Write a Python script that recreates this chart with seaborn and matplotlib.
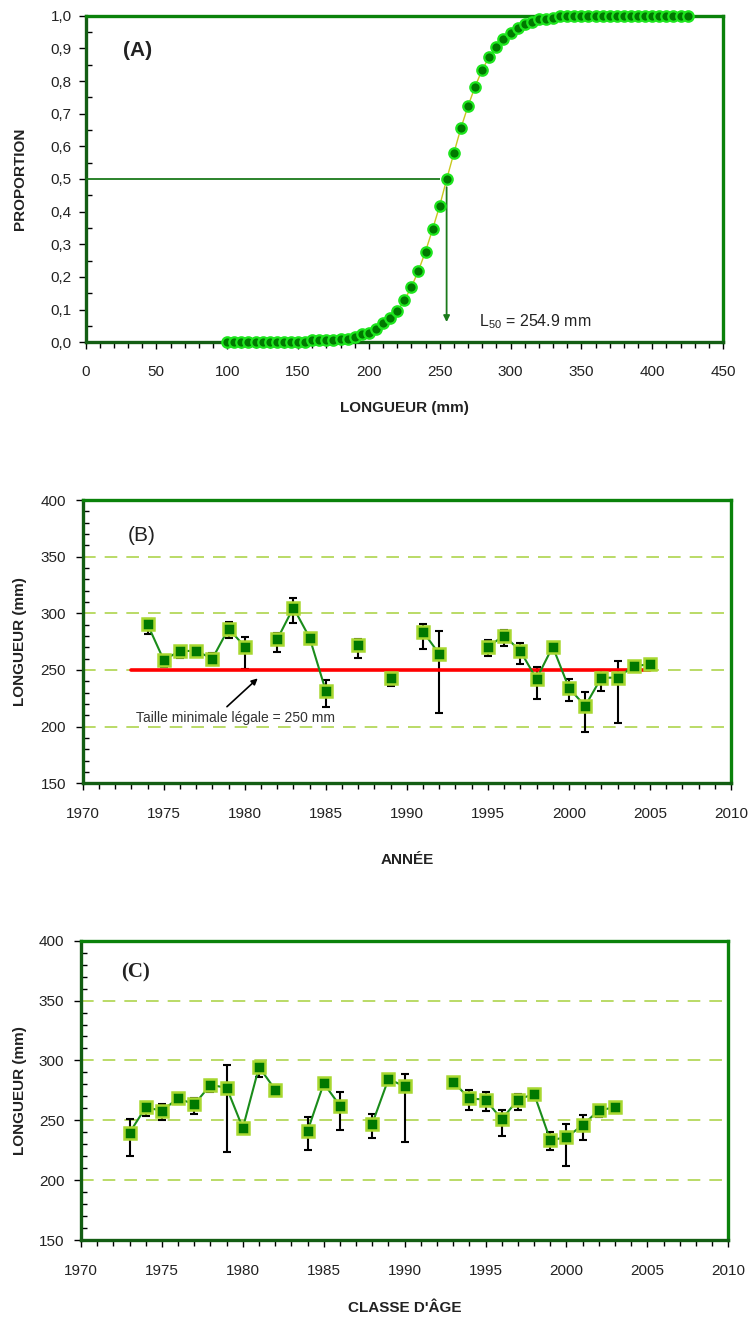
import numpy as np
import pandas as pd
import matplotlib
matplotlib.use('Agg')
import matplotlib.pyplot as plt
import seaborn as sns
from matplotlib.ticker import MultipleLocator, FuncFormatter

# ---------------- Panel A : maturity ogive ----------------
length_mm = [100, 105, 110, 115, 120, 125, 130, 135, 140, 145, 150, 155,
             160, 165, 170, 175, 180, 185, 190, 195, 200, 205, 210, 215,
             220, 225, 230, 235, 240, 245, 250, 255, 260, 265, 270, 275,
             280, 285, 290, 295, 300, 305, 310, 315, 320, 325, 330, 335,
             340, 345, 350, 355, 360, 365, 370, 375, 380, 385, 390, 395,
             400, 405, 410, 415, 420, 425]
proportion = [0.0, 0.0, 0.0, 0.0, 0.0, 0.0, 0.001, 0.001, 0.001, 0.001, 0.001, 0.002,
              0.006, 0.006, 0.006, 0.006, 0.010, 0.010, 0.015, 0.026, 0.030, 0.042, 0.058, 0.073,
              0.096, 0.128, 0.169, 0.219, 0.278, 0.346, 0.418, 0.500, 0.579, 0.656, 0.723, 0.783,
              0.834, 0.874, 0.905, 0.929, 0.948, 0.961, 0.974, 0.980, 0.989, 0.989, 0.994, 0.999,
              1.0, 1.0, 1.0, 1.0, 1.0, 1.0, 1.0, 1.0, 1.0, 1.0, 1.0, 1.0,
              1.0, 1.0, 1.0, 1.0, 1.0, 1.0]
l50 = 254.9
p50 = 0.5

# ---------------- Panel B : mean length by year ----------------
years_b = [1974, 1975, 1976, 1977, 1978, 1979, 1980, 1982, 1983, 1984, 1985, 1987, 1989,
           1991, 1992, 1995, 1996, 1997, 1998, 1999, 2000, 2001, 2002, 2003, 2004, 2005]
mean_b = [290.3, 258.8, 266.8, 266.8, 260.0, 286.5, 270.6, 277.0, 305.0, 278.5, 231.5, 272.0, 243.2,
          283.8, 264.1, 270.6, 280.3, 266.8, 242.1, 270.6, 234.1, 218.2, 243.2, 243.2, 253.5, 255.0]
low_b = [282.0, 253.0, 261.0, 265.0, 254.4, 278.0, 250.6, 266.2, 291.2, 272.6, 217.6, 260.9, 235.9,
         268.8, 212.4, 262.0, 271.5, 255.6, 224.1, 265.3, 222.9, 195.3, 231.8, 203.2, 252.0, 250.0]
high_b = [295.0, 262.0, 269.7, 268.5, 264.7, 292.0, 279.4, 283.0, 313.8, 282.0, 241.2, 277.6, 247.0,
          290.9, 284.4, 276.5, 285.3, 273.8, 252.6, 273.8, 242.1, 230.9, 250.0, 258.0, 255.3, 258.0]
legal_years = [1973, 2005]
legal_size = 250

# ---------------- Panel C : mean length by year class ----------------
years_c = [1973, 1974, 1975, 1976, 1977, 1978, 1979, 1980, 1981, 1982, 1984, 1985, 1986,
           1988, 1989, 1990, 1993, 1994, 1995, 1996, 1997, 1998, 1999, 2000, 2001, 2002, 2003]
mean_c = [239.6, 260.8, 258.0, 268.3, 263.3, 279.5, 277.2, 243.5, 294.5, 275.6, 241.0, 280.8, 262.2,
          247.2, 284.5, 278.3, 282.0, 268.3, 267.2, 250.8, 267.2, 272.0, 233.5, 235.7, 246.0, 258.3, 260.8]
low_c = [220.4, 253.8, 250.2, 263.9, 255.2, 273.6, 223.2, 243.0, 286.4, 271.4, 225.4, 280.3, 241.6,
         235.5, 284.0, 232.1, 281.5, 258.9, 257.7, 236.6, 258.9, 266.6, 225.4, 211.8, 233.8, 252.7, 256.3]
high_c = [251.3, 265.0, 263.9, 271.4, 268.9, 283.9, 296.2, 244.0, 298.7, 279.2, 252.7, 281.3, 273.9,
          255.5, 285.0, 288.6, 282.5, 275.0, 273.6, 258.9, 272.2, 276.1, 240.2, 246.6, 254.1, 260.5, 263.6]

# ---------------- style ----------------
sns.set_style('white')
plt.rcParams['font.family'] = ['Liberation Sans', 'DejaVu Sans']
plt.rcParams['mathtext.fontset'] = 'custom'
plt.rcParams['mathtext.rm'] = 'Liberation Sans'
plt.rcParams['mathtext.it'] = 'Liberation Sans:italic'
plt.rcParams['mathtext.bf'] = 'Liberation Sans:bold'

SPINE_DARK = '#135e13'
SPINE_LIGHT = '#0a820a'
GRID = '#b4d85a'

W, H = 748, 1324
fig = plt.figure(figsize=(W / 100, H / 100), dpi=100)
fig.patch.set_facecolor('white')
axA = fig.add_axes([85.5 / W, 1 - 342.3 / H, 637.5 / W, 326.6 / H])
axB = fig.add_axes([82.7 / W, 1 - 783.3 / H, 648.3 / W, 283.3 / H])
axC = fig.add_axes([81.0 / W, 1 - 1240.0 / H, 647.3 / W, 299.3 / H])


def style_axes(ax, xpad, ypad):
    for side in ['left', 'bottom']:
        ax.spines[side].set_color(SPINE_DARK)
        ax.spines[side].set_linewidth(2.4)
    for side in ['top', 'right']:
        ax.spines[side].set_color(SPINE_LIGHT)
        ax.spines[side].set_linewidth(2.4)
    for s in ax.spines.values():
        s.set_visible(True)
        s.set_zorder(1)
    ax.tick_params(axis='both', which='major', direction='out', length=5, width=1.0,
                   color='black', labelsize=11, labelcolor='#222222')
    ax.tick_params(axis='x', which='major', pad=xpad, bottom=True)
    ax.tick_params(axis='y', which='major', pad=ypad, left=True)
    ax.tick_params(axis='x', which='minor', direction='out', length=4, width=1.0,
                   color='black', bottom=True)
    ax.tick_params(axis='y', which='minor', direction='in', length=4, width=1.0,
                   color='black', left=True)


# ---------------- Panel A ----------------
sns.lineplot(x=length_mm, y=proportion, ax=axA, color='#c8c81e', lw=1.0,
             marker='o', markersize=7.5, markerfacecolor='#007800',
             markeredgecolor='#1ee61e', markeredgewidth=1.6, zorder=4, clip_on=False)
axA.hlines(p50, 0, l50 - 4.7, color='#1a7a1a', lw=1.3, zorder=3)
axA.annotate('', xy=(l50, 0.062), xytext=(l50, p50 - 0.025),
             arrowprops=dict(arrowstyle='-|>', color='#1a7a1a', lw=1.3,
                             mutation_scale=9, shrinkA=0, shrinkB=0), zorder=3)
axA.text(277.5, 0.062, r'L$_{\mathrm{50}}$ = 254.9 mm', fontsize=11.5, ha='left', va='center',
         color='#222222')
axA.text(26.5, 0.892, '(A)', fontsize=15, fontweight='bold', ha='left', va='center',
         color='#222222')
axA.set_xlim(0, 450)
axA.set_ylim(0, 1)
axA.xaxis.set_major_locator(MultipleLocator(50))
axA.xaxis.set_minor_locator(MultipleLocator(10))
axA.yaxis.set_major_locator(MultipleLocator(0.1))
axA.yaxis.set_minor_locator(MultipleLocator(0.05))
axA.yaxis.set_major_formatter(FuncFormatter(lambda v, p: f'{v:.1f}'.replace('.', ',')))
style_axes(axA, xpad=11, ypad=5)
axA.set_xlabel('LONGUEUR (mm)', fontsize=11, fontweight='bold', color='#222222')
axA.set_ylabel('PROPORTION', fontsize=11, fontweight='bold', color='#222222')
axA.xaxis.set_label_coords(0.5, -0.201)
axA.yaxis.set_label_coords(-0.103, 0.5)
axA.xaxis.label.set_va('center')
axA.yaxis.label.set_va('center')


def panel_series(ax, years, mean, low, high):
    df = pd.DataFrame({'year': years, 'mean': mean, 'low': low, 'high': high})
    df['seg'] = (df['year'].diff() > 1).cumsum()
    ax.errorbar(df['year'], df['mean'],
                yerr=[df['mean'] - df['low'], df['high'] - df['mean']],
                fmt='none', ecolor='black', elinewidth=1.5, capsize=2.8, capthick=1.5, zorder=2)
    sns.lineplot(data=df, x='year', y='mean', units='seg', estimator=None, ax=ax,
                 color='#1a8c1a', lw=1.5, marker='s', markersize=8,
                 markerfacecolor='#007800', markeredgecolor='#a8d830',
                 markeredgewidth=1.8, zorder=4, legend=False)


def panel_axes(ax, label_y, xlabel):
    ax.set_xlim(1970, 2010)
    ax.set_ylim(150, 400)
    ax.xaxis.set_major_locator(MultipleLocator(5))
    ax.xaxis.set_minor_locator(MultipleLocator(1))
    ax.yaxis.set_major_locator(MultipleLocator(50))
    ax.yaxis.set_minor_locator(MultipleLocator(10))
    ax.grid(axis='y', which='major', color=GRID, linestyle=(0, (7, 5)), lw=1.3)
    ax.grid(axis='x', visible=False)
    ax.set_axisbelow(True)
    style_axes(ax, xpad=12, ypad=7)
    ax.set_xlabel(xlabel, fontsize=11, fontweight='bold', color='#222222')
    ax.set_ylabel('LONGUEUR (mm)', fontsize=11, fontweight='bold', color='#222222')
    ax.xaxis.set_label_coords(0.5, label_y)
    ax.xaxis.label.set_va('center')
    ax.yaxis.label.set_va('center')


# ---------------- Panel B ----------------
panel_series(axB, years_b, mean_b, low_b, high_b)
sns.lineplot(x=legal_years, y=[legal_size, legal_size], ax=axB, color='#ff0000', lw=2.6, zorder=3)
axB.annotate('', xy=(1980.8, 242.6), xytext=(1978.9, 217.6),
             arrowprops=dict(arrowstyle='-|>', color='black', lw=1.2,
                             mutation_scale=9, shrinkA=0, shrinkB=0))
axB.text(1979.4, 207.6, 'Taille minimale légale = 250 mm', fontsize=10, ha='center',
         va='center', color='#333333')
axB.text(1972.8, 369, '(B)', fontsize=15, ha='left', va='center', color='#222222')
panel_axes(axB, -0.272, 'ANNÉE')
axB.yaxis.set_label_coords(-0.097, 0.5)

# ---------------- Panel C ----------------
panel_series(axC, years_c, mean_c, low_c, high_c)
axC.text(1972.5, 373.4, '(C)', fontsize=15, fontweight='bold', ha='left', va='center',
         color='#222222', family=['Liberation Serif', 'DejaVu Serif'])
panel_axes(axC, -0.227, "CLASSE D'ÂGE")
axC.yaxis.set_label_coords(-0.094, 0.5)

fig.savefig('out.png', dpi=100, facecolor='white')
